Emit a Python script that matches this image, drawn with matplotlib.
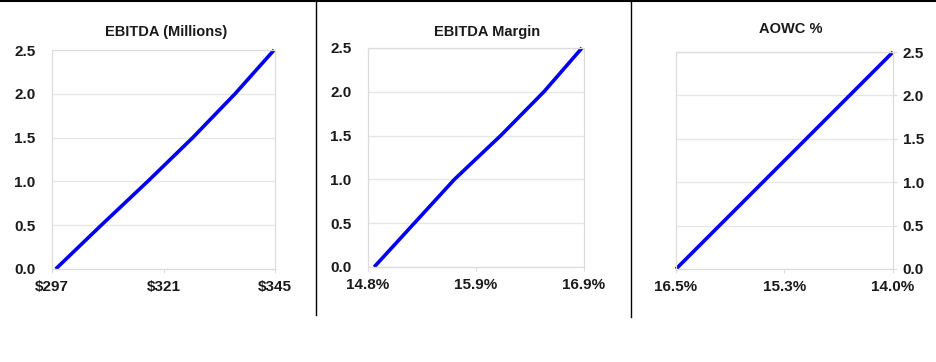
import matplotlib
matplotlib.use("Agg")
import matplotlib.pyplot as plt
from matplotlib.lines import Line2D

plt.rcParams['font.family'] = ['Liberation Sans', 'DejaVu Sans']

# data
y_vals = [0.0, 0.5, 1.0, 1.5, 2.0, 2.5]
y_ticks = [0.0, 0.5, 1.0, 1.5, 2.0, 2.5]

ebitda_x = [297.8, 307.6, 317.6, 327.3, 336.4, 344.8]
ebitda_ticks = [297, 321, 345]
ebitda_labels = ['$297', '$321', '$345']

margin_x = [14.86, 15.25, 15.64, 16.09, 16.51, 16.88]
margin_ticks = [14.8, 15.85, 16.9]
margin_labels = ['14.8%', '15.9%', '16.9%']

aowc_x = [16.5, 16.0, 15.5, 15.0, 14.5, 14.0]
aowc_ticks = [16.5, 15.25, 14.0]
aowc_labels = ['16.5%', '15.3%', '14.0%']

titles = ['EBITDA (Millions)', 'EBITDA Margin', 'AOWC %']

W, H = 936, 362
fig = plt.figure(figsize=(W / 100, H / 100), dpi=100)


def px_axes(l, t, r, b):
    return fig.add_axes([l / W, 1 - b / H, (r - l) / W, (b - t) / H])


def style(ax, xs, xt, xl, right=False):
    ax.plot(xs, y_vals, color='#0000ee', lw=2.6, solid_capstyle='butt',
            solid_joinstyle='round', clip_on=False)
    ax.set_xticks(xt)
    ax.set_xticklabels(xl)
    ax.set_yticks(y_ticks)
    ax.set_yticklabels(['%.1f' % v for v in y_ticks])
    ax.set_ylim(0, 2.5)
    ax.grid(axis='y', color='#e6e6e6', lw=0.9)
    ax.set_axisbelow(True)
    for s in ax.spines.values():
        s.set_color('#dcdcdc')
        s.set_linewidth(0.9)
    ax.tick_params(length=3, color='#dcdcdc', labelsize=11, labelcolor='#1a1a1a')
    ax.tick_params(axis='x', pad=5)
    ax.tick_params(axis='y', pad=4 if right else 12, length=0 if not right else 3)
    if right:
        ax.yaxis.tick_right()
    for t in ax.get_xticklabels() + ax.get_yticklabels():
        t.set_fontweight('bold')


ax1 = px_axes(52, 50, 275, 269)
ax1.set_xlim(297, 345)
style(ax1, ebitda_x, ebitda_ticks, ebitda_labels)

ax2 = px_axes(368, 48, 584, 267)
ax2.set_xlim(14.8, 16.9)
style(ax2, margin_x, margin_ticks, margin_labels)

ax3 = px_axes(676, 52, 893, 269)
ax3.set_xlim(16.5, 14.0)
style(ax3, aowc_x, aowc_ticks, aowc_labels, right=True)

# panel titles
for title, cx, cy in zip(titles, [166, 487, 791], [32, 32, 29]):
    fig.text(cx / W, 1 - cy / H, title, ha='center', va='center',
             fontsize=10.5, fontweight='bold', color='#1a1a1a')

# frame lines
fig.add_artist(Line2D([0, 1], [1 - 1 / H, 1 - 1 / H], color='black', lw=1.5))
fig.add_artist(Line2D([315.5 / W, 315.5 / W], [1, 1 - 315 / H], color='black', lw=1.0))
fig.add_artist(Line2D([630.5 / W, 630.5 / W], [1, 1 - 317 / H], color='black', lw=1.0))

fig.savefig('out.png', dpi=100, facecolor='white')
